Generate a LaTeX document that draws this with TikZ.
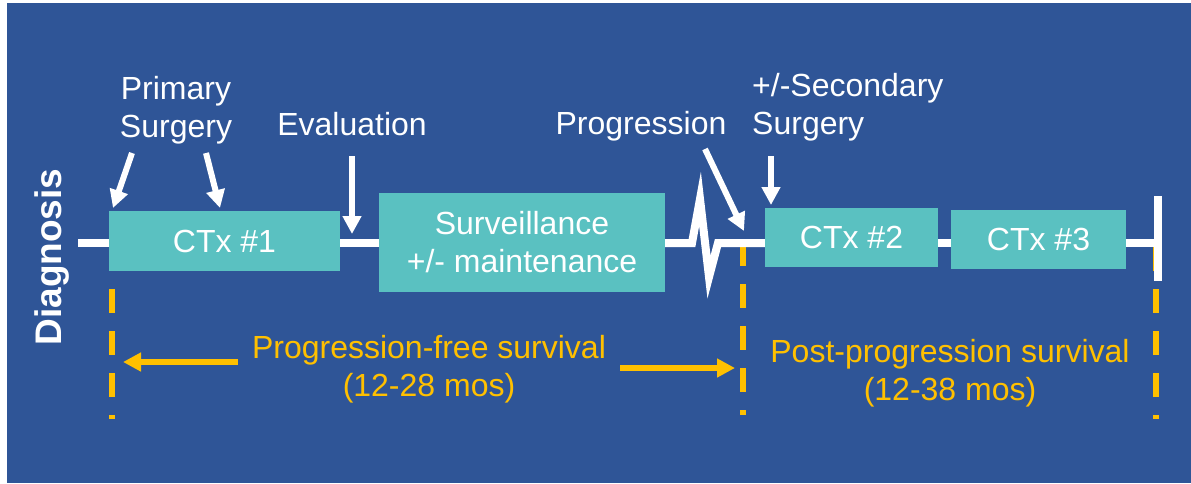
\documentclass[tikz,border=0pt]{standalone}
\usepackage{fontspec}
\setmainfont{Liberation Sans}
\usetikzlibrary{arrows.meta}
\definecolor{bgblue}{RGB}{47,85,151}
\definecolor{tealbox}{RGB}{90,193,193}
\definecolor{ambery}{RGB}{255,192,0}
\begin{document}
\begin{tikzpicture}[x=1pt,y=-1pt,
  txt/.style={font=\fontsize{32}{38}\selectfont, text=white, inner sep=0pt},
  ytxt/.style={font=\fontsize{32}{38}\selectfont, text=ambery, inner sep=0pt, align=center},
  box/.style={fill=tealbox, draw=none, inner sep=0pt, font=\fontsize{32}{38}\selectfont, text=white, align=center},
  tline/.style={white, line width=8pt},
  warrow/.style={white, line width=6pt, -{Triangle[width=18pt,length=18pt]}},
  yarrow/.style={ambery, line width=6pt, -{Triangle[width=18pt,length=18pt]}},
  ydash/.style={ambery, line width=6pt, dash pattern=on 24pt off 18pt}
]
\useasboundingbox (0,0) rectangle (1191,483);
\fill[white] (0,0) rectangle (1191,483);
\fill[bgblue] (6.5,3) rectangle (1191,483);

% boxes
\node[box, minimum width=231pt, minimum height=60pt] (ctx1) at (224.5,241) {CTx \#1};
\node[box, minimum width=286pt, minimum height=99pt] (surv) at (522,242.5) {Surveillance\\+/- maintenance};
\node[box, minimum width=173pt, minimum height=59pt] (ctx2) at (851.5,237.5) {CTx \#2};
\node[box, minimum width=175pt, minimum height=59pt] (ctx3) at (1038.5,239.5) {CTx \#3};

% labels
\node[txt, rotate=90, font=\fontsize{37}{40}\selectfont\bfseries] (diag) at (52,257) {Diagnosis};
\node[txt, align=center] (prim) at (176,110) {Primary\\Surgery};
\node[txt] (eval) at (352,124) {Evaluation};
\node[txt] (prog) at (641,126) {Progression};
\node[txt, align=left, anchor=west] (sec) at (752,107.5) {+/-Secondary\\Surgery};
\node[ytxt] (pfs) at (429,369) {Progression-free survival\\(12-28 mos)};
\node[ytxt] (pps) at (950,373) {Post-progression survival\\(12-38 mos)};

% coordinates
\coordinate (tstart) at (78,243);
\coordinate (zA) at (692,243);
\coordinate (zB) at (700,199);
\coordinate (zC) at (709,277);
\coordinate (zD) at (718,243);
\coordinate (endtop) at (1158,196);
\coordinate (endbot) at (1158,281);
\coordinate (endmid) at (1158,243);

% yellow dashed verticals
\draw[ydash] (112,289) -- (112,419);
\draw[ydash] (743,242) -- (743,415);
\draw[ydash] (1156,247) -- (1156,419);

% timeline
\draw[tline] (tstart) -- (ctx1.west |- tstart);
\draw[tline] (ctx1.east |- tstart) -- (surv.west |- tstart);
\draw[tline, line join=miter] (surv.east |- tstart) -- (zA) -- (zB) -- (zC) -- (zD) -- (ctx2.west |- zD);
\draw[tline] (ctx2.east |- tstart) -- (ctx3.west |- tstart);
\draw[tline] (ctx3.east |- tstart) -- (endmid);
\draw[white, line width=8pt] (endtop) -- (endbot);

% white arrows
\coordinate (a1s) at (132,153); \coordinate (a1e) at (113,208);
\coordinate (a2s) at (206,153); \coordinate (a2e) at (220,208);
\coordinate (a3s) at (352,156); \coordinate (a3e) at (352,234);
\coordinate (a4s) at (705,149); \coordinate (a4e) at (744,231);
\coordinate (a5s) at (771,156); \coordinate (a5e) at (771,205);
\draw[warrow] (a1s) -- (a1e);
\draw[warrow] (a2s) -- (a2e);
\draw[warrow] (a3s) -- (a3e);
\draw[warrow] (a4s) -- (a4e);
\draw[warrow] (a5s) -- (a5e);

% yellow arrows
\coordinate (y1s) at (238,362); \coordinate (y1e) at (123,362);
\coordinate (y2s) at (620,368); \coordinate (y2e) at (735,368);
\draw[yarrow] (y1s) -- (y1e);
\draw[yarrow] (y2s) -- (y2e);
\end{tikzpicture}
\end{document}
